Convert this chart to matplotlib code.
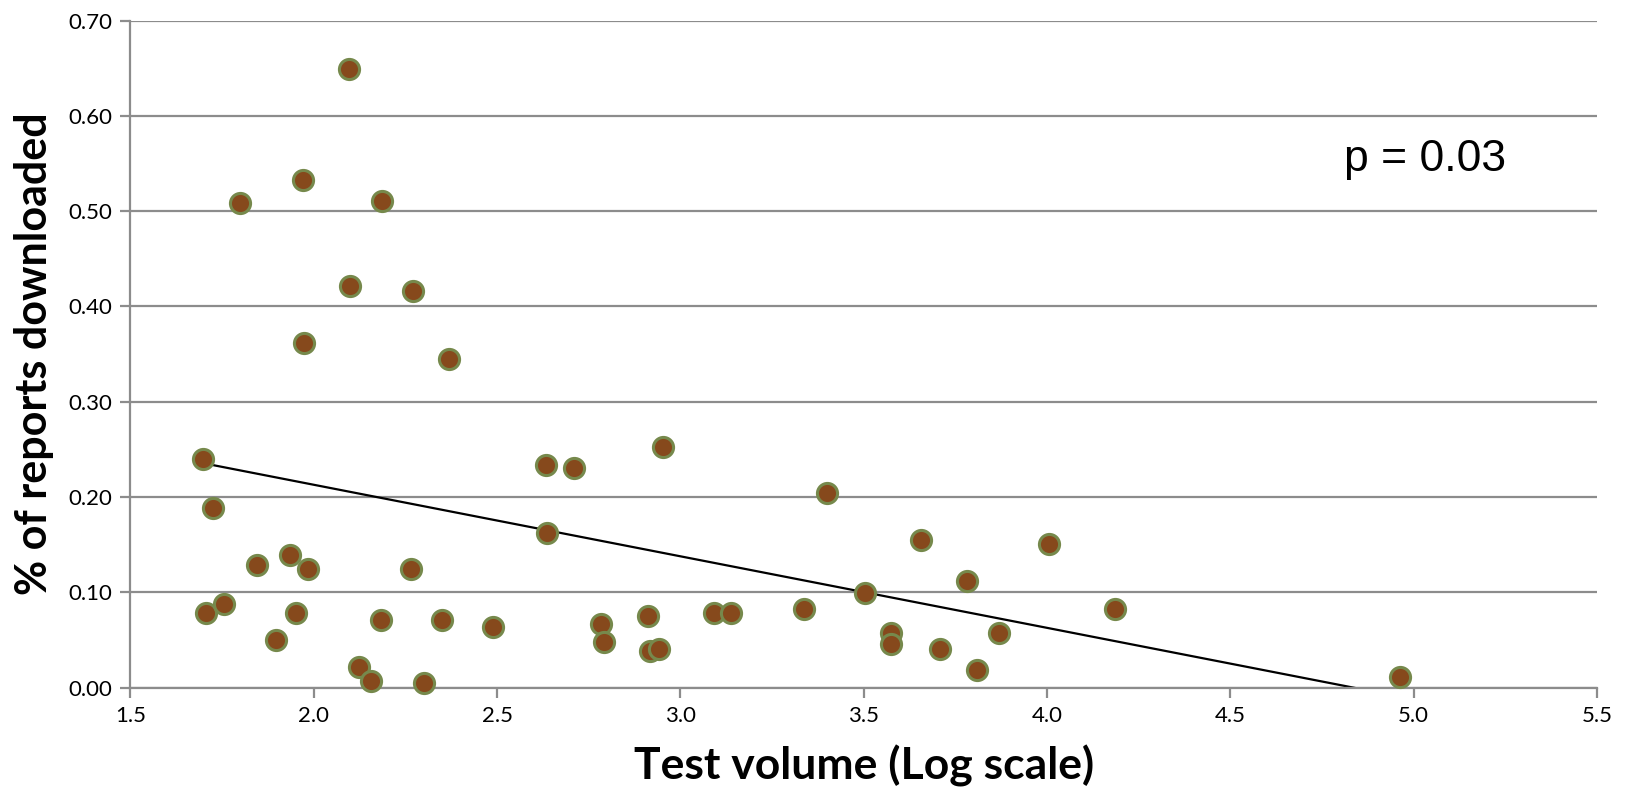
import matplotlib.pyplot as plt
from matplotlib.ticker import MultipleLocator, FormatStrFormatter

# test volume (log scale) vs share of reports downloaded
volume = [1.699, 1.725, 1.707, 1.756, 1.844, 1.934, 1.983, 1.952, 1.896, 2.123,
          2.156, 2.184, 2.264, 2.302, 2.349, 2.490, 2.634, 2.637, 2.711, 2.953,
          3.399, 2.784, 2.792, 2.912, 2.918, 2.941, 3.092, 3.137, 3.336, 3.504,
          3.575, 3.575, 3.657, 3.707, 3.782, 3.810, 3.870, 4.004, 4.185, 4.963,
          2.097, 1.971, 1.800, 2.186, 2.098, 2.271, 1.973, 2.370]
downloaded = [0.240, 0.189, 0.078, 0.088, 0.129, 0.139, 0.125, 0.078, 0.050, 0.022,
              0.007, 0.071, 0.125, 0.005, 0.071, 0.064, 0.234, 0.162, 0.231, 0.253,
              0.204, 0.067, 0.048, 0.075, 0.038, 0.041, 0.078, 0.078, 0.083, 0.099,
              0.057, 0.046, 0.155, 0.041, 0.112, 0.018, 0.057, 0.151, 0.083, 0.011,
              0.649, 0.533, 0.509, 0.511, 0.421, 0.416, 0.362, 0.345]

# trend line end points (clipped at 0 by the axis)
trend_x = [1.699, 4.963]
trend_y = [0.2355, -0.0096]

grey = '#8c8c8c'

fig = plt.figure(figsize=(16.3, 7.94), dpi=100)
ax = fig.add_axes([0.080, 0.134, 0.8998, 0.840])

ax.plot(trend_x, trend_y, color='black', lw=1.6, zorder=2)
ax.plot(volume, downloaded, 'o', ms=14.5, mfc='#86491c', mec='#76894c', mew=2.2,
        zorder=3, clip_on=False)

ax.set_xlim(1.5, 5.5)
ax.set_ylim(0, 0.70)
ax.xaxis.set_major_locator(MultipleLocator(0.5))
ax.yaxis.set_major_locator(MultipleLocator(0.1))
ax.xaxis.set_major_formatter(FormatStrFormatter('%.1f'))
ax.yaxis.set_major_formatter(FormatStrFormatter('%.2f'))

ax.grid(True, axis='y', color=grey, lw=1.6)
ax.set_axisbelow(True)
for s in ['top', 'right']:
    ax.spines[s].set_visible(False)
for s in ['left', 'bottom']:
    ax.spines[s].set_color(grey)
    ax.spines[s].set_linewidth(1.6)
ax.tick_params(axis='both', direction='out', length=7, width=1.6, color=grey,
               labelsize=16, pad=6)
for lab in ax.get_xticklabels() + ax.get_yticklabels():
    lab.set_family('Lato')

ax.set_xlabel('Test volume (Log scale)', fontsize=32, fontweight='bold',
              family='Lato', labelpad=14)
ax.set_ylabel('% of reports downloaded', fontsize=31, fontweight='bold',
              family='Lato', labelpad=10)

ax.text(5.03, 0.554, 'p = 0.03', fontsize=32, family='Liberation Sans',
        ha='center', va='center')

plt.savefig('out.png', dpi=100)
plt.close()
